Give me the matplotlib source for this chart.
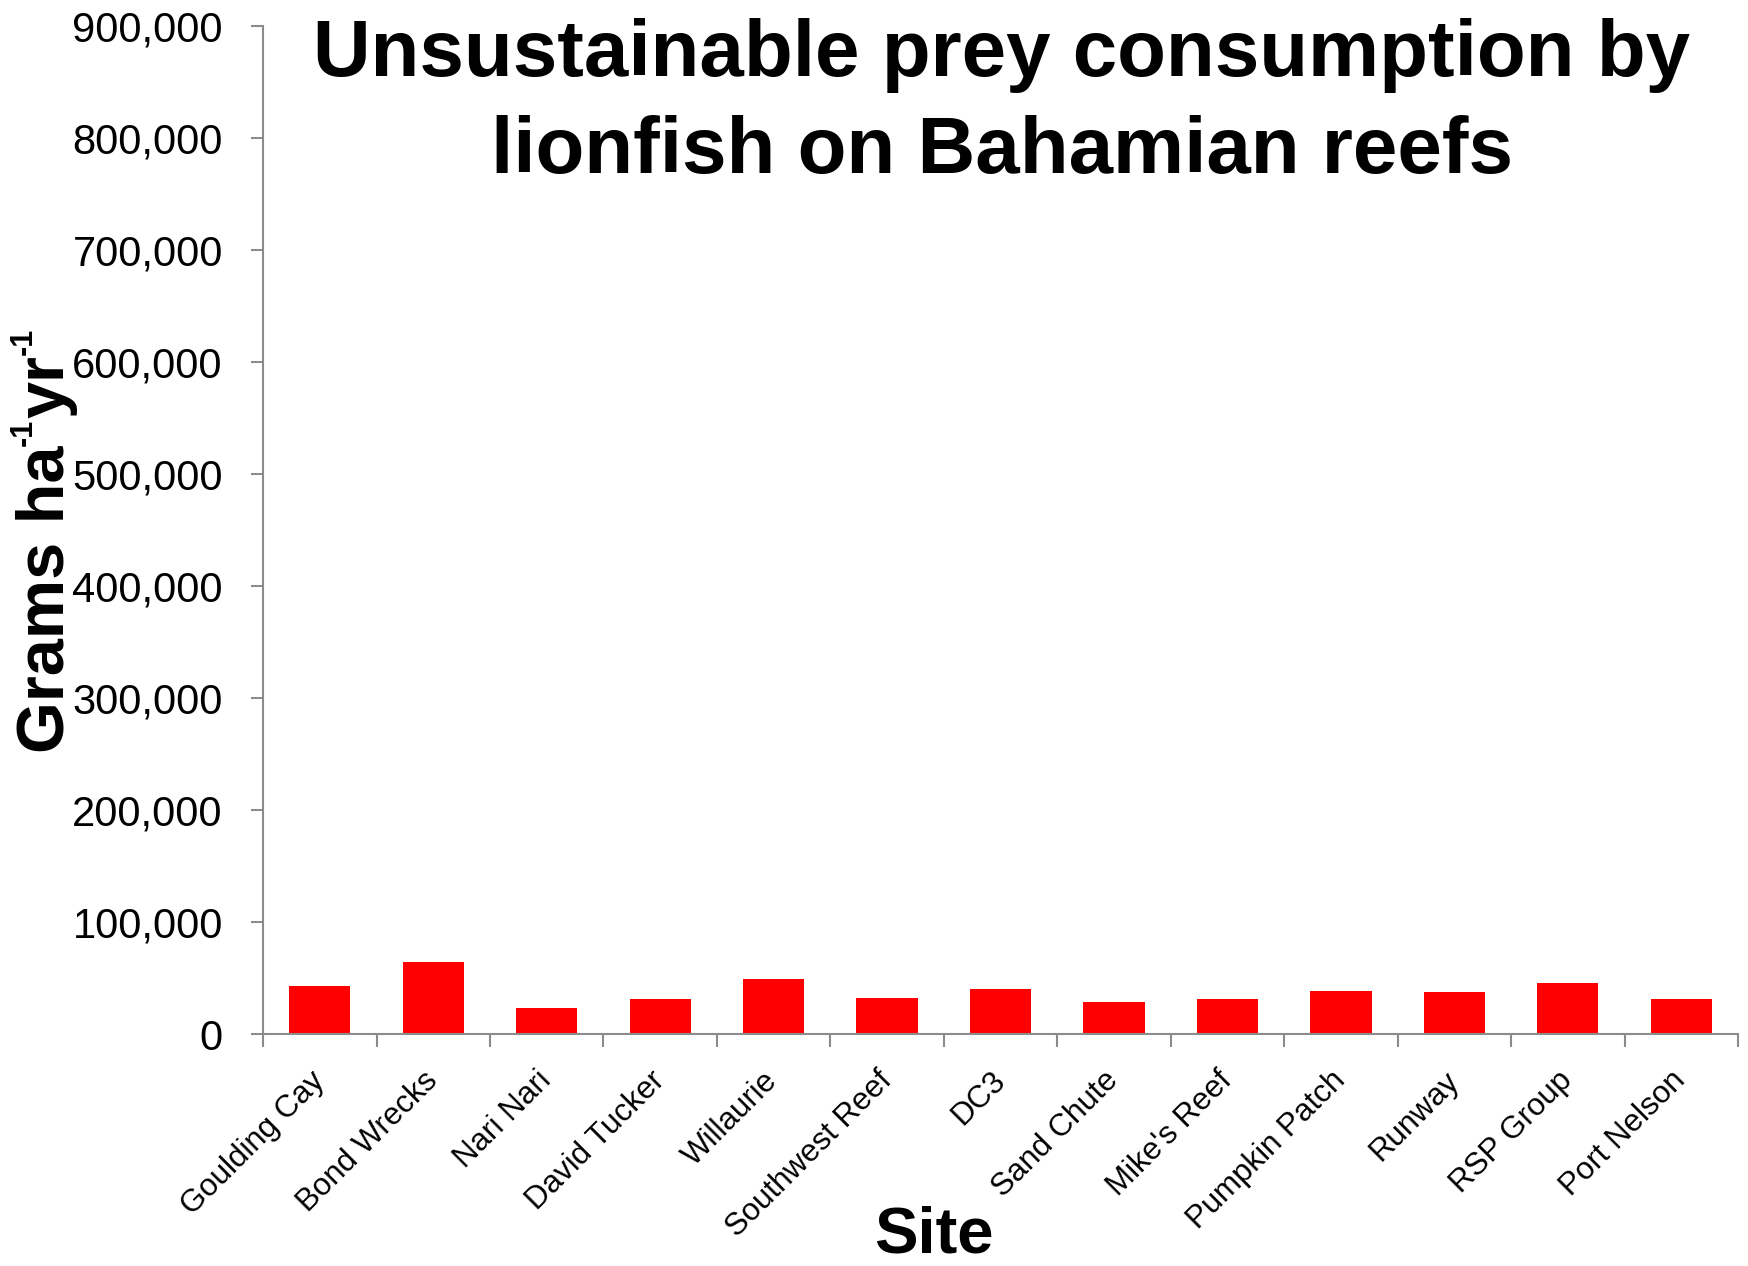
import matplotlib
matplotlib.use("Agg")
import matplotlib.pyplot as plt
from matplotlib.ticker import FuncFormatter, MultipleLocator
from matplotlib.transforms import IdentityTransform
import numpy as np

plt.rcParams['font.family'] = ['Liberation Sans', 'DejaVu Sans']

sites = ["Goulding Cay", "Bond Wrecks", "Nari Nari", "David Tucker", "Willaurie",
         "Southwest Reef", "DC3", "Sand Chute", "Mike's Reef", "Pumpkin Patch",
         "Runway", "RSP Group", "Port Nelson"]
consumption = [42800, 64500, 23500, 31500, 49300, 32400, 40400, 29100, 31500,
               38600, 38000, 46000, 31500]

title = "Unsustainable prey consumption by\nlionfish on Bahamian reefs"
# y label pieces: (text, is superscript)
ylabel_parts = [("Grams ha", False), ("-1", True), ("yr", False), ("-1", True)]
xlabel = "Site"

fig = plt.figure(figsize=(17.48, 12.66), dpi=100)
ax = fig.add_axes([0.1505, 0.1829, 0.8438, 0.7969])

x = np.arange(len(sites))
ax.bar(x, consumption, width=0.54, color="#FF0000", zorder=2)

ax.set_xlim(-0.5, len(sites) - 0.5)
ax.set_ylim(0, 900000)
ax.yaxis.set_major_locator(MultipleLocator(100000))
ax.yaxis.set_major_formatter(FuncFormatter(lambda v, p: f"{int(v):,}"))

axis_grey = "#8c8c8c"
for side in ("top", "right"):
    ax.spines[side].set_visible(False)
for side in ("left", "bottom"):
    ax.spines[side].set_color(axis_grey)
    ax.spines[side].set_linewidth(1.5)

# category boundary ticks on x, labels centred under bars
ax.set_xticks(np.arange(len(sites) + 1) - 0.5)
ax.set_xticklabels([])
ax.set_xticks(x, minor=True)
ax.set_xticklabels(sites, minor=True, rotation=45, ha="right", va="center",
                   rotation_mode="anchor", fontsize=22.5)
ax.tick_params(axis="x", which="major", direction="out", length=9.5,
               width=1.5, color=axis_grey)
ax.tick_params(axis="x", which="minor", length=0, pad=30)
ax.tick_params(axis="y", direction="out", length=9, width=1.5,
               color=axis_grey, labelsize=30, pad=20)

fig.text(0.573, 0.9177, title, ha="center", va="center", fontsize=57.5,
         fontweight="bold", linespacing=1.38)
fig.text(0.534, 0.024, xlabel, ha="center", va="center", fontsize=47,
         fontweight="bold")

# vertical axis title with small raised "-1" exponents, laid out piece by piece
fig.canvas.draw()
renderer = fig.canvas.get_renderer()
base_x = 63.0              # baseline position, pixels from the left edge
cursor_y = 1266 - 753.0    # start of text, pixels from the bottom edge
for text, sup in ylabel_parts:
    size = 22 if sup else 48
    shift = 31.0 if sup else 0.0
    t = fig.text(base_x - shift, cursor_y, text, transform=IdentityTransform(),
                 rotation=90, rotation_mode="anchor", ha="left",
                 va="baseline", fontsize=size, fontweight="bold")
    bb = t.get_window_extent(renderer)
    cursor_y += bb.height

fig.savefig("out.png", dpi=100)
